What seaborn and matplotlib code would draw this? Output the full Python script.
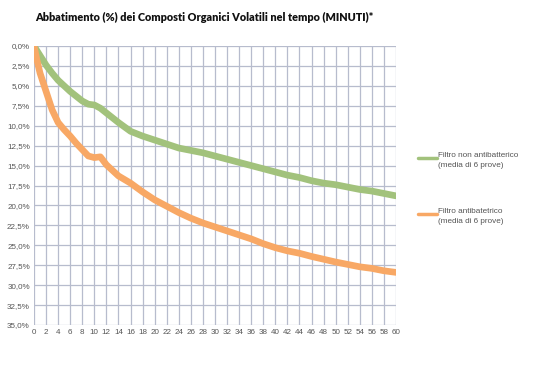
import pandas as pd
import matplotlib
matplotlib.use("Agg")
import matplotlib.pyplot as plt
from matplotlib.lines import Line2D
from matplotlib.ticker import FuncFormatter, MultipleLocator
import seaborn as sns

# minuti / abbattimento (%)
t_green = [0, 1, 2, 3, 4, 5, 6, 7, 8, 9, 10, 11, 12, 13, 14, 16, 18, 20, 22, 24, 26, 28, 30,
           32, 34, 36, 38, 40, 42, 44, 46, 48, 50, 52, 54, 56, 58, 60]
v_green = [0, 1.2, 2.4, 3.4, 4.3, 5.0, 5.7, 6.3, 6.9, 7.3, 7.4, 7.8, 8.4, 9.0, 9.6, 10.7, 11.3,
           11.8, 12.3, 12.8, 13.1, 13.4, 13.8, 14.2, 14.6, 15.0, 15.4, 15.8, 16.2, 16.5, 16.9,
           17.2, 17.4, 17.7, 18.0, 18.2, 18.5, 18.8]
t_orange = [0, 0.5, 1, 2, 3, 4, 5, 6, 7, 8, 9, 10, 11, 12, 13, 14, 16, 18, 20, 22, 24, 26, 28,
            30, 32, 34, 36, 38, 40, 42, 44, 46, 48, 50, 52, 54, 56, 58, 60]
v_orange = [0, 1.8, 3.4, 5.7, 8.0, 9.6, 10.5, 11.3, 12.2, 13.0, 13.8, 14.0, 13.9, 14.9, 15.6,
            16.3, 17.2, 18.3, 19.3, 20.1, 20.9, 21.6, 22.2, 22.7, 23.2, 23.7, 24.2, 24.8, 25.3,
            25.7, 26.0, 26.4, 26.75, 27.1, 27.4, 27.7, 27.9, 28.2, 28.4]
labels = ["Filtro non antibatterico\n(media di 6 prove)", "Filtro antibatetrico\n(media di 6 prove)"]
colors = ["#a2c27c", "#f8a865"]

df = pd.concat([
    pd.DataFrame({"minuti": t_green, "valore": v_green, "serie": labels[0]}),
    pd.DataFrame({"minuti": t_orange, "valore": v_orange, "serie": labels[1]}),
])

sns.set_style("white")
plt.rcParams["font.family"] = ["Liberation Sans", "DejaVu Sans"]

fig = plt.figure(figsize=(5.4, 3.66), dpi=100)
ax = fig.add_axes([34 / 540, 1 - 325 / 366, (396 - 34) / 540, (325 - 46) / 366])

sns.lineplot(data=df, x="minuti", y="valore", hue="serie", palette=colors,
             linewidth=4.8, legend=False, ax=ax)

ax.set_xlim(0, 60)
ax.set_ylim(35, 0)
ax.xaxis.set_major_locator(MultipleLocator(2))
ax.yaxis.set_major_locator(MultipleLocator(2.5))
ax.yaxis.set_major_formatter(FuncFormatter(lambda v, p: f"{v:.1f}%".replace(".", ",")))
ax.grid(True, color="#b7bccd", linewidth=0.9)
ax.set_axisbelow(True)
for s in ax.spines.values():
    s.set_visible(False)
ax.tick_params(length=0, labelsize=5.8, colors="#555555", pad=3)
ax.set_xlabel("")
ax.set_ylabel("")

fig.text(35 / 540, 1 - 17 / 366, "Abbatimento (%) dei Composti Organici Volatili nel tempo (MINUTI)*",
         fontsize=7.8, fontweight="heavy", family="Lato", color="#111111", va="center", ha="left")

# legenda a destra
for lab, col, y in zip(labels, colors, [158, 214]):
    fig.add_artist(Line2D([418 / 540, 437 / 540], [1 - y / 366, 1 - y / 366],
                          color=col, linewidth=2.5, transform=fig.transFigure))
    fig.text(438 / 540, 1 - (y - 6) / 366, lab, fontsize=5.9, color="#555555",
             va="top", ha="left", linespacing=1.6)

fig.savefig("out.png", dpi=100)
